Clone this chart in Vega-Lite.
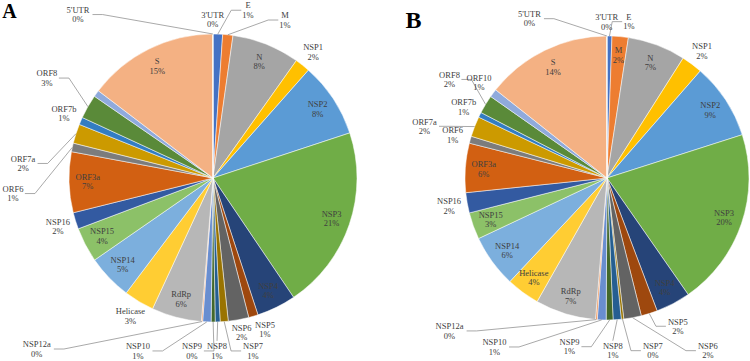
{
  "$schema": "https://vega.github.io/schema/vega-lite/v6.json",
  "padding": 0,
  "spacing": 38,
  "bounds": "flush",
  "background": "white",
  "config": {"view": {"stroke": null}},
  "datasets": {
    "A": [
      {"gene": "E", "share": 1.07}, {"gene": "M", "share": 1.15}, {"gene": "N", "share": 7.6},
      {"gene": "NSP1", "share": 1.7}, {"gene": "NSP2", "share": 8.4}, {"gene": "NSP3", "share": 20.6},
      {"gene": "NSP4", "share": 4.4}, {"gene": "NSP5", "share": 1.06}, {"gene": "NSP6", "share": 2.3},
      {"gene": "NSP7", "share": 0.9}, {"gene": "NSP8", "share": 0.55}, {"gene": "NSP9", "share": 0.45},
      {"gene": "NSP10", "share": 0.94}, {"gene": "NSP12a", "share": 0.14}, {"gene": "RdRp", "share": 5.6},
      {"gene": "Helicase", "share": 3.4}, {"gene": "NSP14", "share": 5.06}, {"gene": "NSP15", "share": 3.9},
      {"gene": "NSP16", "share": 1.86}, {"gene": "ORF3a", "share": 6.8}, {"gene": "ORF6", "share": 0.97},
      {"gene": "ORF7a", "share": 2.17}, {"gene": "ORF7b", "share": 0.83}, {"gene": "ORF8", "share": 2.7},
      {"gene": "ORF10", "share": 0.75}, {"gene": "S", "share": 14.6}, {"gene": "3'UTR", "share": 0.02},
      {"gene": "5'UTR", "share": 0.02}
    ],
    "B": [
      {"gene": "E", "share": 0.56}, {"gene": "M", "share": 1.85}, {"gene": "N", "share": 6.6},
      {"gene": "NSP1", "share": 2.4}, {"gene": "NSP2", "share": 8.67}, {"gene": "NSP3", "share": 20.25},
      {"gene": "NSP4", "share": 3.94}, {"gene": "NSP5", "share": 1.86}, {"gene": "NSP6", "share": 2.0},
      {"gene": "NSP7", "share": 0.28}, {"gene": "NSP8", "share": 0.92}, {"gene": "NSP9", "share": 0.78},
      {"gene": "NSP10", "share": 1.0}, {"gene": "NSP12a", "share": 0.2}, {"gene": "RdRp", "share": 6.9},
      {"gene": "Helicase", "share": 3.8}, {"gene": "NSP14", "share": 6.0}, {"gene": "NSP15", "share": 3.06},
      {"gene": "NSP16", "share": 2.3}, {"gene": "ORF3a", "share": 5.6}, {"gene": "ORF6", "share": 0.8},
      {"gene": "ORF7a", "share": 2.3}, {"gene": "ORF7b", "share": 0.58}, {"gene": "ORF8", "share": 2.1},
      {"gene": "ORF10", "share": 0.94}, {"gene": "S", "share": 14.3}, {"gene": "3'UTR", "share": 0.02},
      {"gene": "5'UTR", "share": 0.02}
    ],
    "calloutA": [
      {"gene": "5'UTR", "cx": -0.9375, "cy": 1.135}, {"gene": "E", "cx": 0.243, "cy": 1.165},
      {"gene": "M", "cx": 0.5, "cy": 1.097}, {"gene": "ORF8", "cx": -1.153, "cy": 0.694},
      {"gene": "ORF7a", "cx": -1.319, "cy": 0.101}, {"gene": "ORF6", "cx": -1.389, "cy": -0.108},
      {"gene": "NSP12a", "cx": -1.224, "cy": -1.1875}, {"gene": "NSP10", "cx": -0.521, "cy": -1.201},
      {"gene": "NSP9", "cx": -0.146, "cy": -1.201}, {"gene": "NSP8", "cx": 0.028, "cy": -1.201},
      {"gene": "NSP7", "cx": 0.278, "cy": -1.201}, {"gene": "NSP6", "cx": 0.199, "cy": -1.073},
      {"gene": "NSP5", "cx": 0.361, "cy": -1.052}
    ],
    "calloutB": [
      {"gene": "5'UTR", "cx": -0.546, "cy": 1.122}, {"gene": "E", "cx": 0.154, "cy": 1.101},
      {"gene": "ORF8", "cx": -1.109, "cy": 0.694}, {"gene": "ORF7a", "cx": -1.285, "cy": 0.364},
      {"gene": "NSP12a", "cx": -1.109, "cy": -1.077}, {"gene": "NSP10", "cx": -0.792, "cy": -1.19},
      {"gene": "NSP9", "cx": -0.264, "cy": -1.188}, {"gene": "NSP8", "cx": 0.041, "cy": -1.216},
      {"gene": "NSP7", "cx": 0.3225, "cy": -1.216}, {"gene": "NSP6", "cx": 0.71, "cy": -1.216},
      {"gene": "NSP5", "cx": 0.4986, "cy": -1.044}
    ]
  },
  "hconcat": [
    {
      "width": 426,
      "height": 356,
      "layer": [
        {
          "data": {"name": "A"},
          "transform": [
            {"window": [{"op": "row_number", "as": "i"}]},
            {"window": [{"op": "sum", "field": "share", "as": "cum"}], "sort": [{"field": "i", "order": "ascending"}], "frame": [null, 0]},
            {"joinaggregate": [{"op": "sum", "field": "share", "as": "total"}]},
            {"lookup": "gene", "from": {"data": {"name": "calloutA"}, "key": "gene", "fields": ["cx", "cy"]}},
            {"calculate": "2 * PI * (datum.cum - datum.share / 2) / datum.total", "as": "mid"},
            {"calculate": "sin(datum.mid)", "as": "px"},
            {"calculate": "cos(datum.mid)", "as": "py"},
            {"calculate": "indexof(['S','N','NSP2','NSP3','NSP4','RdRp','NSP14','NSP15','ORF3a'], datum.gene) >= 0 ? 0.87 : 1.10 + 0.03 * abs(datum.px)", "as": "d"},
            {"calculate": "isValid(datum.cx) ? datum.cx : datum.d * datum.px", "as": "lx"},
            {"calculate": "isValid(datum.cy) ? datum.cy : datum.d * datum.py", "as": "ly"},
            {"calculate": "datum.gene + '\\n' + format(datum.share / datum.total, '.0%')", "as": "label"}
          ],
          "layer": [
            {
              "mark": {"type": "arc", "outerRadius": 144, "stroke": "white", "strokeWidth": 0.5},
              "encoding": {
                "theta": {"field": "share", "type": "quantitative", "stack": true},
                "order": {"field": "i", "type": "quantitative"},
                "color": {
                  "field": "gene", "type": "nominal", "legend": null,
                  "scale": {
                    "domain": ["E","M","N","NSP1","NSP2","NSP3","NSP4","NSP5","NSP6","NSP7","NSP8","NSP9","NSP10","NSP12a","RdRp","Helicase","NSP14","NSP15","NSP16","ORF3a","ORF6","ORF7a","ORF7b","ORF8","ORF10","S","3'UTR","5'UTR"],
                    "range": ["#4472C4","#ED7D31","#A5A5A5","#FFC000","#5B9BD5","#70AD47","#264478","#9E480E","#636363","#997300","#255E91","#43682B","#698ED0","#F1975A","#B7B7B7","#FFCD33","#7CAFDD","#8CC168","#335AA1","#D26012","#7C7C7C","#CC9A00","#327DC2","#5A8A39","#8FAADC","#F4B183","#C9C9C9","#FFD966"]
                  }
                }
              }
            },
            {
              "transform": [
                {"filter": "isValid(datum.cx) && sqrt(pow(datum.cx - datum.px, 2) + pow(datum.cy - datum.py, 2)) > 0.15"},
                {"calculate": "datum.px > datum.cx ? 1 : -1", "as": "sg"},
                {"calculate": "abs(datum.px - datum.cx) > 0.12", "as": "hz"},
                {"calculate": "(max(length(datum.gene), 2) * 2.6 + 1.5) / 144", "as": "hw"},
                {"calculate": "datum.hz ? datum.cx + datum.sg * datum.hw : datum.cx", "as": "ax"},
                {"calculate": "datum.hz ? datum.cy : datum.cy - (datum.cy > 0 ? 1 : -1) * 0.07", "as": "ay"},
                {"calculate": "datum.hz ? datum.ax + datum.sg * 0.07 : datum.ax", "as": "ex"}
              ],
              "layer": [
                {
                  "mark": {"type": "rule", "color": "#8c8c8c", "strokeWidth": 0.75},
                  "encoding": {
                    "x": {"field": "ax", "type": "quantitative", "axis": null, "scale": {"domain": [-1.4792, 1.4792], "nice": false, "zero": false}},
                    "y": {"field": "ay", "type": "quantitative", "axis": null, "scale": {"domain": [-1.2361, 1.2361], "nice": false, "zero": false}},
                    "x2": {"field": "ex"},
                    "y2": {"field": "ay"}
                  }
                },
                {
                  "mark": {"type": "rule", "color": "#8c8c8c", "strokeWidth": 0.75},
                  "encoding": {
                    "x": {"field": "ex", "type": "quantitative", "axis": null, "scale": {"domain": [-1.4792, 1.4792], "nice": false, "zero": false}},
                    "y": {"field": "ay", "type": "quantitative", "axis": null, "scale": {"domain": [-1.2361, 1.2361], "nice": false, "zero": false}},
                    "x2": {"field": "px"},
                    "y2": {"field": "py"}
                  }
                }
              ]
            },
            {
              "transform": [{"filter": "datum.gene !== 'ORF10'"}],
              "mark": {"type": "text", "font": "Liberation Serif", "fontSize": 8.5, "lineBreak": "\n", "lineHeight": 9.5, "align": "center", "baseline": "middle", "dy": -4.75, "color": "#404040"},
              "encoding": {
                "x": {"field": "lx", "type": "quantitative", "axis": null, "scale": {"domain": [-1.4792, 1.4792], "nice": false, "zero": false}},
                "y": {"field": "ly", "type": "quantitative", "axis": null, "scale": {"domain": [-1.2361, 1.2361], "nice": false, "zero": false}},
                "text": {"field": "label"}
              }
            }
          ]
        },
        {
          "data": {"values": [{"panel": "A"}]},
          "mark": {"type": "text", "font": "Liberation Serif", "fontWeight": "bold", "fontSize": 20, "align": "center", "baseline": "alphabetic", "color": "black"},
          "encoding": {
            "x": {"datum": -1.413, "type": "quantitative", "axis": null, "scale": {"domain": [-1.4792, 1.4792], "nice": false, "zero": false}},
            "y": {"datum": 1.111, "type": "quantitative", "axis": null, "scale": {"domain": [-1.2361, 1.2361], "nice": false, "zero": false}},
            "text": {"field": "panel"}
          }
        }
      ]
    },
    {
      "width": 286,
      "height": 356,
      "layer": [
        {
          "data": {"name": "B"},
          "transform": [
            {"window": [{"op": "row_number", "as": "i"}]},
            {"window": [{"op": "sum", "field": "share", "as": "cum"}], "sort": [{"field": "i", "order": "ascending"}], "frame": [null, 0]},
            {"joinaggregate": [{"op": "sum", "field": "share", "as": "total"}]},
            {"lookup": "gene", "from": {"data": {"name": "calloutB"}, "key": "gene", "fields": ["cx", "cy"]}},
            {"calculate": "2 * PI * (datum.cum - datum.share / 2) / datum.total", "as": "mid"},
            {"calculate": "sin(datum.mid)", "as": "px"},
            {"calculate": "cos(datum.mid)", "as": "py"},
            {"calculate": "indexof(['S','M','N','NSP2','NSP3','NSP4','RdRp','Helicase','NSP14','NSP15','ORF3a'], datum.gene) >= 0 ? 0.87 : 1.10 + 0.03 * abs(datum.px)", "as": "d"},
            {"calculate": "isValid(datum.cx) ? datum.cx : datum.d * datum.px", "as": "lx"},
            {"calculate": "isValid(datum.cy) ? datum.cy : datum.d * datum.py", "as": "ly"},
            {"calculate": "datum.gene + '\\n' + format(datum.share / datum.total, '.0%')", "as": "label"}
          ],
          "layer": [
            {
              "mark": {"type": "arc", "outerRadius": 142, "stroke": "white", "strokeWidth": 0.5},
              "encoding": {
                "theta": {"field": "share", "type": "quantitative", "stack": true},
                "order": {"field": "i", "type": "quantitative"},
                "color": {
                  "field": "gene", "type": "nominal", "legend": null,
                  "scale": {
                    "domain": ["E","M","N","NSP1","NSP2","NSP3","NSP4","NSP5","NSP6","NSP7","NSP8","NSP9","NSP10","NSP12a","RdRp","Helicase","NSP14","NSP15","NSP16","ORF3a","ORF6","ORF7a","ORF7b","ORF8","ORF10","S","3'UTR","5'UTR"],
                    "range": ["#4472C4","#ED7D31","#A5A5A5","#FFC000","#5B9BD5","#70AD47","#264478","#9E480E","#636363","#997300","#255E91","#43682B","#698ED0","#F1975A","#B7B7B7","#FFCD33","#7CAFDD","#8CC168","#335AA1","#D26012","#7C7C7C","#CC9A00","#327DC2","#5A8A39","#8FAADC","#F4B183","#C9C9C9","#FFD966"]
                  }
                }
              }
            },
            {
              "transform": [
                {"filter": "isValid(datum.cx) && sqrt(pow(datum.cx - datum.px, 2) + pow(datum.cy - datum.py, 2)) > 0.15"},
                {"calculate": "datum.px > datum.cx ? 1 : -1", "as": "sg"},
                {"calculate": "abs(datum.px - datum.cx) > 0.12", "as": "hz"},
                {"calculate": "(max(length(datum.gene), 2) * 2.6 + 1.5) / 142", "as": "hw"},
                {"calculate": "datum.hz ? datum.cx + datum.sg * datum.hw : datum.cx", "as": "ax"},
                {"calculate": "datum.hz ? datum.cy : datum.cy - (datum.cy > 0 ? 1 : -1) * 0.07", "as": "ay"},
                {"calculate": "datum.hz ? datum.ax + datum.sg * 0.07 : datum.ax", "as": "ex"}
              ],
              "layer": [
                {
                  "mark": {"type": "rule", "color": "#8c8c8c", "strokeWidth": 0.75},
                  "encoding": {
                    "x": {"field": "ax", "type": "quantitative", "axis": null, "scale": {"domain": [-1.007, 1.007], "nice": false, "zero": false}},
                    "y": {"field": "ay", "type": "quantitative", "axis": null, "scale": {"domain": [-1.2535, 1.2535], "nice": false, "zero": false}},
                    "x2": {"field": "ex"},
                    "y2": {"field": "ay"}
                  }
                },
                {
                  "mark": {"type": "rule", "color": "#8c8c8c", "strokeWidth": 0.75},
                  "encoding": {
                    "x": {"field": "ex", "type": "quantitative", "axis": null, "scale": {"domain": [-1.007, 1.007], "nice": false, "zero": false}},
                    "y": {"field": "ay", "type": "quantitative", "axis": null, "scale": {"domain": [-1.2535, 1.2535], "nice": false, "zero": false}},
                    "x2": {"field": "px"},
                    "y2": {"field": "py"}
                  }
                }
              ]
            },
            {
              "mark": {"type": "text", "font": "Liberation Serif", "fontSize": 8.5, "lineBreak": "\n", "lineHeight": 9.5, "align": "center", "baseline": "middle", "dy": -4.75, "color": "#404040"},
              "encoding": {
                "x": {"field": "lx", "type": "quantitative", "axis": null, "scale": {"domain": [-1.007, 1.007], "nice": false, "zero": false}},
                "y": {"field": "ly", "type": "quantitative", "axis": null, "scale": {"domain": [-1.2535, 1.2535], "nice": false, "zero": false}},
                "text": {"field": "label"}
              }
            }
          ]
        },
        {
          "data": {"values": [{"panel": "B"}]},
          "mark": {"type": "text", "font": "Liberation Serif", "fontWeight": "bold", "fontSize": 24, "align": "center", "baseline": "alphabetic", "color": "black"},
          "encoding": {
            "x": {"datum": -1.363, "type": "quantitative", "axis": null, "scale": {"domain": [-1.007, 1.007], "nice": false, "zero": false}},
            "y": {"datum": 1.056, "type": "quantitative", "axis": null, "scale": {"domain": [-1.2535, 1.2535], "nice": false, "zero": false}},
            "text": {"field": "panel"}
          }
        }
      ]
    }
  ]
}
